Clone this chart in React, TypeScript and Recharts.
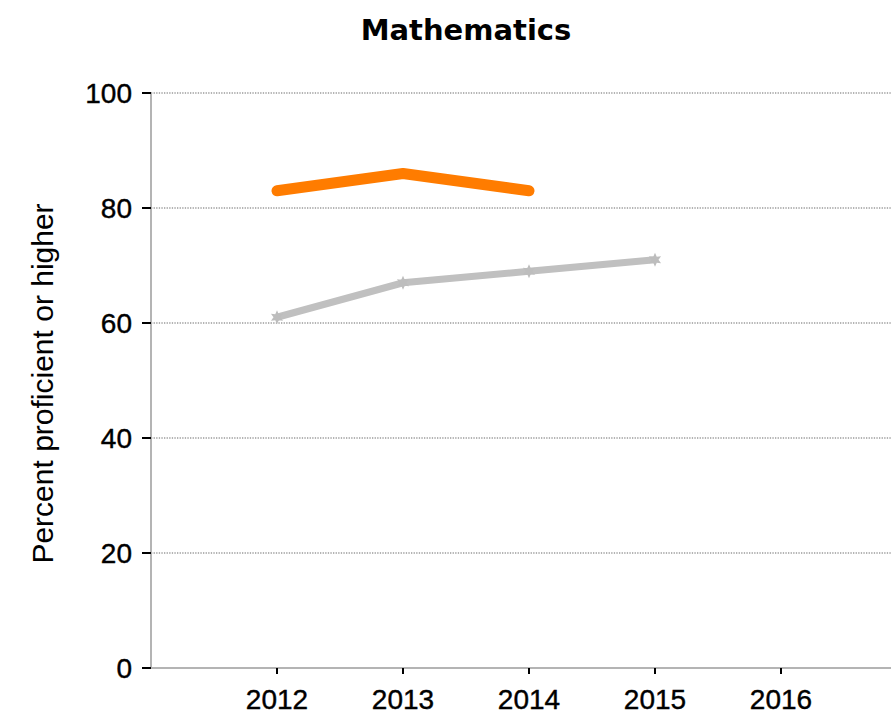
import { LineChart, Line, XAxis, YAxis, CartesianGrid } from "recharts";

const years = [2012, 2013, 2014, 2015, 2016];
const schoolScores = [83, 86, 83, null, null];
const stateScores = [61, 67, 69, 71, null];
const yTicks = [0, 20, 40, 60, 80, 100];

const chartData = years.map((year, i) => ({
    year,
    school: schoolScores[i],
    state: stateScores[i],
}));

const FONT = "'Liberation Sans', Arial, sans-serif";

// little star marker for the gray series
const StarDot = (props: any) => {
    const { cx, cy, index } = props;
    if (cx == null || cy == null) return null;
    const pts: string[] = [];
    for (let k = 0; k < 12; k++) {
        const r = k % 2 === 0 ? 7 : 3.5;
        const a = (Math.PI / 6) * k - Math.PI / 2;
        pts.push(`${cx + r * Math.cos(a)},${cy + r * Math.sin(a)}`);
    }
    return <polygon key={`star-${index}`} points={pts.join(" ")} fill="#bdbdbd" />;
};

export default function App() {
    return (
        <div
            style={{
                position: "absolute",
                left: 0,
                top: 0,
                width: 891,
                height: 722,
                overflow: "hidden",
                background: "#fff",
            }}
        >
            <div
                style={{
                    position: "absolute",
                    left: 466,
                    top: 16,
                    transform: "translateX(-50%)",
                    fontFamily: "'DejaVu Sans', Verdana, sans-serif",
                    fontWeight: "bold",
                    fontSize: 29,
                    lineHeight: 1,
                    whiteSpace: "nowrap",
                    color: "#000",
                }}
            >
                Mathematics
            </div>
            <LineChart
                width={907}
                height={722}
                data={chartData}
                margin={{ top: 93, right: 0, left: 0, bottom: 0 }}
            >
                <CartesianGrid
                    vertical={false}
                    stroke="#9a9a9a"
                    strokeWidth={1.5}
                    strokeDasharray="1.3 1.3"
                />
                <XAxis
                    dataKey="year"
                    type="number"
                    domain={[2011, 2017]}
                    ticks={years}
                    allowDataOverflow
                    height={54}
                    axisLine={{ stroke: "#b4b4b4", strokeWidth: 2 }}
                    tickLine={{ stroke: "#000", strokeWidth: 2 }}
                    tickSize={6}
                    tickMargin={15}
                    tick={{ fill: "#000", stroke: "#000", strokeWidth: 0.4, fontSize: 28, fontFamily: FONT }}
                />
                <YAxis
                    domain={[0, 100]}
                    ticks={yTicks}
                    width={151}
                    axisLine={{ stroke: "#b4b4b4", strokeWidth: 2 }}
                    tickLine={{ stroke: "#000", strokeWidth: 2 }}
                    tickSize={9}
                    tickMargin={10}
                    tick={{ fill: "#000", stroke: "#000", strokeWidth: 0.4, fontSize: 28, fontFamily: FONT }}
                    label={{
                        value: "Percent proficient or higher",
                        angle: -90,
                        position: "center",
                        dx: -33,
                        dy: 3,
                        fill: "#000",
                        fontSize: 30,
                        fontFamily: FONT,
                    }}
                />
                <Line
                    dataKey="state"
                    stroke="#c0c0c0"
                    strokeWidth={7}
                    dot={<StarDot />}
                    activeDot={false}
                    isAnimationActive={false}
                />
                <Line
                    dataKey="school"
                    stroke="#ff7c00"
                    strokeWidth={11}
                    strokeLinecap="round"
                    strokeLinejoin="round"
                    dot={false}
                    activeDot={false}
                    isAnimationActive={false}
                />
            </LineChart>
        </div>
    );
}
